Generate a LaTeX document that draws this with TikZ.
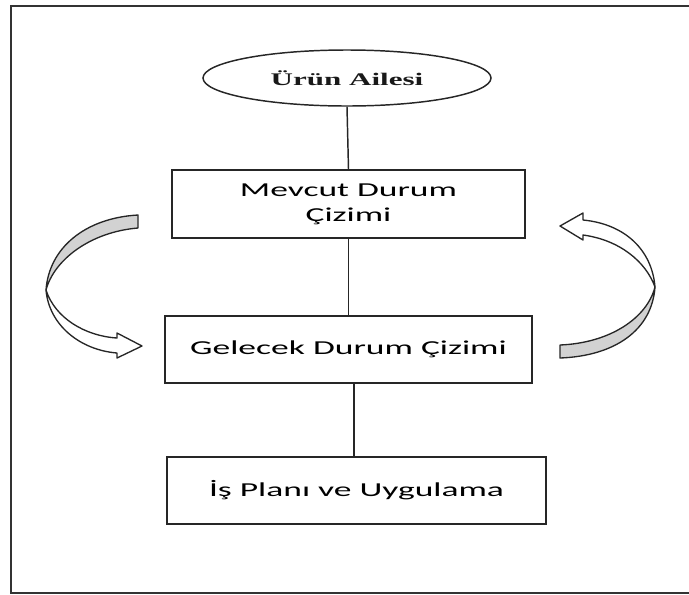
\documentclass[tikz,border=0pt]{standalone}
\usepackage{fontspec}
\usepackage{graphicx}
\setmainfont{Liberation Serif}
\newfontfamily\boxfont{Carlito}
\usetikzlibrary{shapes.geometric}

\tikzset{
  frameline/.style={line width=1.5pt, draw=black!80},
  stepbox/.style={draw=black!85, line width=1.1pt, rectangle, inner sep=0pt,
    font=\boxfont\fontsize{14.8}{18.75}\selectfont, text=black},
  topoval/.style={draw=black!85, line width=1.1pt, ellipse, inner sep=0pt,
    minimum width=216pt, minimum height=42pt,
    font=\bfseries\fontsize{13.3}{16}\selectfont, text=black!90},
  link/.style={draw=black!85, line width=1.1pt},
  backface/.style={draw=black!85, fill=gray!35, line width=1pt, line join=round},
  frontface/.style={draw=black!85, fill=white, line width=1pt, line join=round}
}
\newcommand{\wide}[2][1.8]{\scalebox{#1}[1]{#2}}

\begin{document}
\begin{tikzpicture}[x=0.75pt, y=-0.75pt]
  \useasboundingbox (0,0) rectangle (689,594);

  % outer frame
  \draw[frameline] (692,6) -- (11,6) -- (11,593) -- (692,593);

  % flow nodes
  \node[topoval] (fam) at (347,78) {\wide[1.75]{Ürün Ailesi}};
  \node[stepbox, minimum width=264.75pt, minimum height=51pt] (cur) at (348.5,204)
    {\wide{\begin{tabular}{@{}c@{}}Mevcut Durum\\Çizimi\end{tabular}}};
  \node[stepbox, minimum width=275.25pt, minimum height=50.25pt] (fut) at (348.5,349.5)
    {\wide{Gelecek Durum Çizimi}};
  \node[stepbox, minimum width=284.25pt, minimum height=50.25pt] (plan) at (356.5,490.5)
    {\wide{İş Planı ve Uygulama}};

  % connectors
  \draw[link] (fam.south) -- (cur.north);
  \draw[link] (cur.south) -- (fut.north);
  \draw[link] ([xshift=4pt]fut.south) -- ([xshift=-2pt]plan.north);

  % left curved arrow (current -> future)
  \filldraw[backface] (138,215) .. controls (85,218) and (49,248) .. (46,290)
    .. controls (54,260) and (90,232) .. (138,228) -- cycle;
  \filldraw[frontface] (46,290) .. controls (49,325) and (80,350) .. (117,353)
    -- (117,358) -- (142,346) -- (117,333) -- (117,338)
    .. controls (85,336) and (55,318) .. (46,290) -- cycle;

  % right curved arrow (future -> current)
  \filldraw[backface] (560,358) .. controls (615,356) and (652,330) .. (655,287)
    .. controls (647,318) and (610,343) .. (560,345) -- cycle;
  \filldraw[frontface] (655,287) .. controls (652,250) and (625,224) .. (583,220)
    -- (583,213) -- (560,226) -- (583,240) -- (583,235)
    .. controls (620,240) and (646,262) .. (655,287) -- cycle;
\end{tikzpicture}
\end{document}
